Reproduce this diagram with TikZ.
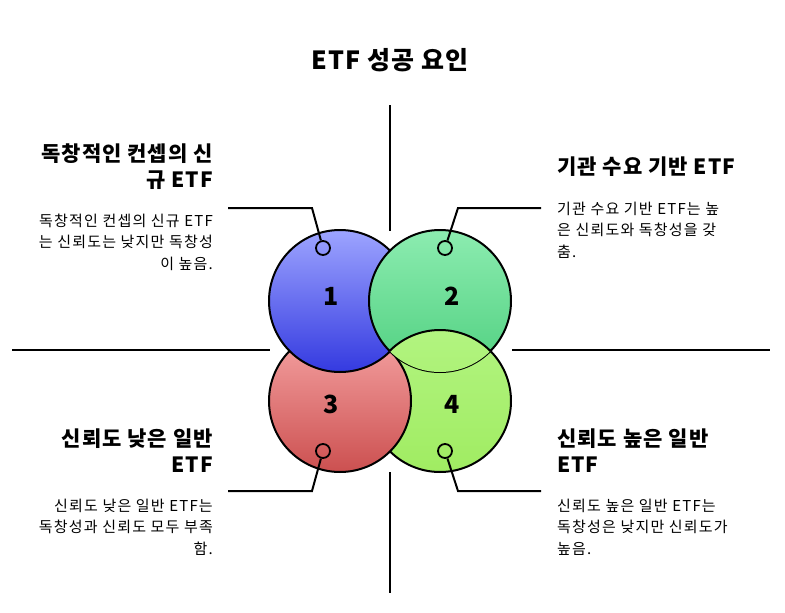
\documentclass[tikz,border=0pt]{standalone}
\usepackage{fontspec}
\setmainfont{Noto Sans CJK KR}
\begin{document}
\begin{tikzpicture}[x=1pt,y=-1pt,
  ring/.style={circle,draw=black,line width=2pt,minimum size=142pt,inner sep=0pt},
  c1col/.style={top color={rgb,255:red,157;green,164;blue,255},bottom color={rgb,255:red,52;green,58;blue,224}},
  c2col/.style={top color={rgb,255:red,140;green,236;blue,176},bottom color={rgb,255:red,80;green,208;blue,128}},
  c3col/.style={top color={rgb,255:red,246;green,165;blue,165},bottom color={rgb,255:red,204;green,80;blue,80}},
  c4col/.style={top color={rgb,255:red,178;green,244;blue,128},bottom color={rgb,255:red,160;green,236;blue,98}},
  numlbl/.style={font=\fontsize{25}{28}\selectfont\bfseries},
  dot/.style={circle,draw=black,line width=1.8pt,minimum size=14pt,inner sep=0pt},
  lead/.style={draw=black,line width=2pt},
  axis/.style={draw=black,line width=2pt},
  head/.style={font=\fontsize{21}{26}\selectfont\bfseries\addfontfeature{LetterSpace=5},inner sep=0pt},
  body/.style={font=\fontsize{15}{21.3}\selectfont\addfontfeature{LetterSpace=8},inner sep=0pt}]
\useasboundingbox (0,0) rectangle (785,613);
\fill[white] (0,0) rectangle (785,613);
% axes
\coordinate (vt) at (390,105); \coordinate (vtb) at (390,231);
\coordinate (vb) at (390,593); \coordinate (vbb) at (390,472);
\coordinate (hl) at (12,350); \coordinate (hlb) at (270,350);
\coordinate (hr) at (770,350); \coordinate (hrb) at (512,350);
\draw[axis] (vt) -- (vtb);
\draw[axis] (vbb) -- (vb);
\draw[axis] (hl) -- (hlb);
\draw[axis] (hrb) -- (hr);
% circles (pinwheel order)
\node[ring,c4col] (c4) at (440,401) {};
\node[ring,c3col] (c3) at (340,401) {};
\node[ring,c1col] (c1) at (340,301) {};
\node[ring,c2col] (c2) at (440,301) {};
\begin{scope}
  \clip (440,301) circle (71);
  \node[ring,c4col] at (440,401) {};
\end{scope}
% numbers
\node[numlbl] (n1) at (331,296) {1};
\node[numlbl] (n2) at (452,296) {2};
\node[numlbl] (n3) at (331,404) {3};
\node[numlbl] (n4) at (452,404) {4};
% dots and leaders
\node[dot] (d1) at (323,248) {};
\node[dot] (d2) at (445,248) {};
\node[dot] (d3) at (323,451) {};
\node[dot] (d4) at (445,451) {};
\coordinate (k1) at (312,208); \coordinate (e1) at (228,208);
\coordinate (k2) at (458,208); \coordinate (e2) at (541,208);
\coordinate (k3) at (312,491); \coordinate (e3) at (228,491);
\coordinate (k4) at (458,491); \coordinate (e4) at (541,491);
\draw[lead] (d1) -- (k1) -- (e1);
\draw[lead] (d2) -- (k2) -- (e2);
\draw[lead] (d3) -- (k3) -- (e3);
\draw[lead] (d4) -- (k4) -- (e4);
% title
\node[font=\fontsize{25}{28}\selectfont\bfseries\addfontfeature{LetterSpace=5},anchor=base,inner sep=0pt] (title) at (390,69) {ETF 성공 요인};
% texts (base anchor = last line baseline)
\node[head,anchor=base east,align=right] (h1) at (213,187) {독창적인 컨셉의 신\\규 ETF};
\node[body,anchor=base east,align=right] (b1) at (213,269) {독창적인 컨셉의 신규 ETF\\는 신뢰도는 낮지만 독창성\\이 높음.};
\node[head,anchor=base west,align=left] (h2) at (557,174) {기관 수요 기반 ETF};
\node[body,anchor=base west,align=left] (b2) at (557,257) {기관 수요 기반 ETF는 높\\은 신뢰도와 독창성을 갖\\춤.};
\node[head,anchor=base east,align=right] (h3) at (213,472) {신뢰도 낮은 일반\\ETF};
\node[body,anchor=base east,align=right] (b3) at (213,554) {신뢰도 낮은 일반 ETF는\\독창성과 신뢰도 모두 부족\\함.};
\node[head,anchor=base west,align=left] (h4) at (557,472) {신뢰도 높은 일반\\ETF};
\node[body,anchor=base west,align=left] (b4) at (557,554) {신뢰도 높은 일반 ETF는\\독창성은 낮지만 신뢰도가\\높음.};
\end{tikzpicture}
\end{document}
